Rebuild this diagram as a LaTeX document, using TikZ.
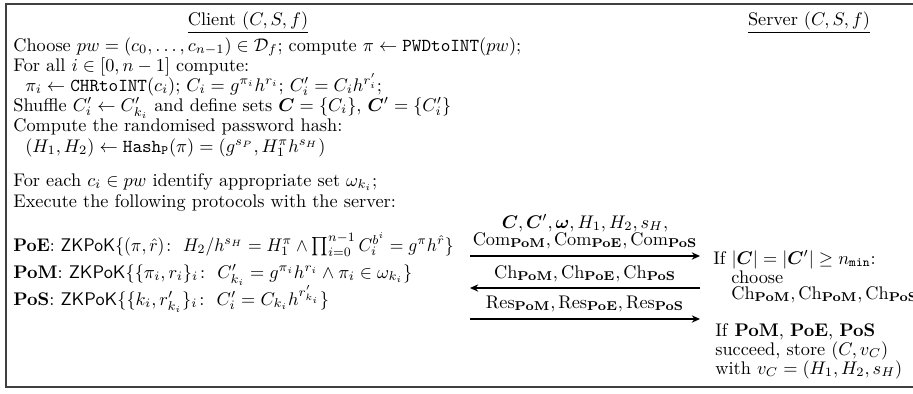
\documentclass[tikz,border=0pt]{standalone}
\usepackage{amsmath,amssymb,bm,graphicx}
\usetikzlibrary{arrows.meta}
\newcommand{\pbf}[1]{\mathbf{#1}}
\begin{document}
\begin{tikzpicture}[x=0.547pt,y=-0.547pt,
  txt/.style={anchor=base west,inner sep=0pt},
  ctr/.style={anchor=base,inner sep=0pt},
  msg/.style={line width=0.75pt,-{Stealth[length=4.5pt,width=4pt]}},
  frame/.style={draw=black!75,line width=0.9pt}]
\useasboundingbox (0,0) rectangle (913,393);
\clip (0,0) rectangle (913,393);
\draw[frame] (6,4) rectangle (950,387);
% headers
\node[ctr] (client) at (248,25) {\underline{Client $(C,S,f)$}};
\node[ctr] (server) at (809,25) {\underline{Server $(C,S,f)$}};
% client text
\node[txt] (l1) at (13,51) {Choose $pw=(c_0,\dots,c_{n-1})\in\mathcal{D}_f$; compute $\pi\leftarrow\mathtt{PWDtoINT}(pw)$;};
\node[txt] (l2) at (13,71) {For all $i\in[0,n-1]$ compute:};
\node[txt] (l3) at (25,91) {$\pi_i\leftarrow\mathtt{CHRtoINT}(c_i)$; $C_i=g^{\pi_i}h^{r_i}$;\ $C'_i=C_ih^{r'_i}$;};
\node[txt] (l4) at (13,111) {Shuffle $C'_i\leftarrow C'_{k_i}$ and define sets $\bm{C}=\{C_i\}$, $\bm{C}'=\{C'_i\}$};
\node[txt] (l5) at (13,131) {Compute the randomised password hash:};
\node[txt] (l6) at (25,152) {$(H_1,H_2)\leftarrow\mathtt{Hash}_{\mathtt{P}}(\pi)=(g^{s_P},H_1^{\pi}h^{s_H})$};
\node[txt] (l7) at (13,186) {For each $c_i\in pw$ identify appropriate set $\omega_{k_i}$;};
\node[txt] (l8) at (13,207) {Execute the following protocols with the server:};
\node[txt] (poe) at (13,251) {\scalebox{0.96}[1]{\textbf{PoE}: $\mathsf{ZKPoK}\{(\pi,\hat{r})\colon\ H_2/h^{s_H}=H_1^{\pi}\wedge\prod_{i=0}^{n-1}C_i^{b^i}=g^{\pi}h^{\hat{r}}\}$}};
\node[txt] (pom) at (13,278) {\textbf{PoM}: $\mathsf{ZKPoK}\{\{\pi_i,r_i\}_i\colon\ C'_{k_i}=g^{\pi_i}h^{r_i}\wedge\pi_i\in\omega_{k_i}\}$};
\node[txt] (pos) at (13,305) {\textbf{PoS}: $\mathsf{ZKPoK}\{\{k_i,r'_{k_i}\}_i\colon\ C'_i=C_{k_i}h^{r'_{k_i}}\}$};
% messages
\coordinate (a1s) at (470,256);
\coordinate (a1e) at (700,256);
\coordinate (a2s) at (700,288);
\coordinate (a2e) at (470,288);
\coordinate (a3s) at (470,319);
\coordinate (a3e) at (700,319);
\draw[msg] (a1s) -- (a1e);
\draw[msg] (a2s) -- (a2e);
\draw[msg] (a3s) -- (a3e);
\node[ctr] (m1a) at (585,228) {$\bm{C},\bm{C}',\bm{\omega},H_1,H_2,s_H,$};
\node[ctr] (m1b) at (585,245) {$\mathrm{Com}_{\pbf{PoM}},\mathrm{Com}_{\pbf{PoE}},\mathrm{Com}_{\pbf{PoS}}$};
\node[ctr] (m2) at (585,278) {$\mathrm{Ch}_{\pbf{PoM}},\mathrm{Ch}_{\pbf{PoE}},\mathrm{Ch}_{\pbf{PoS}}$};
\node[ctr] (m3) at (585,308) {$\mathrm{Res}_{\pbf{PoM}},\mathrm{Res}_{\pbf{PoE}},\mathrm{Res}_{\pbf{PoS}}$};
% server text
\node[txt] (s1) at (713,264) {If $|\bm{C}|=|\bm{C}'|\geq n_{\mathtt{min}}$:};
\node[txt] (s2) at (731,283) {choose};
\node[txt] (s3) at (731,299) {$\mathrm{Ch}_{\pbf{PoM}},\mathrm{Ch}_{\pbf{PoM}},\mathrm{Ch}_{\pbf{PoS}}$};
\node[txt] (s4) at (715,336) {If \textbf{PoM}, \textbf{PoE}, \textbf{PoS}};
\node[txt] (s5) at (715,355) {succeed, store $(C,v_C)$};
\node[txt] (s6) at (715,374) {with $v_C=(H_1,H_2,s_H)$};
\end{tikzpicture}
\end{document}
